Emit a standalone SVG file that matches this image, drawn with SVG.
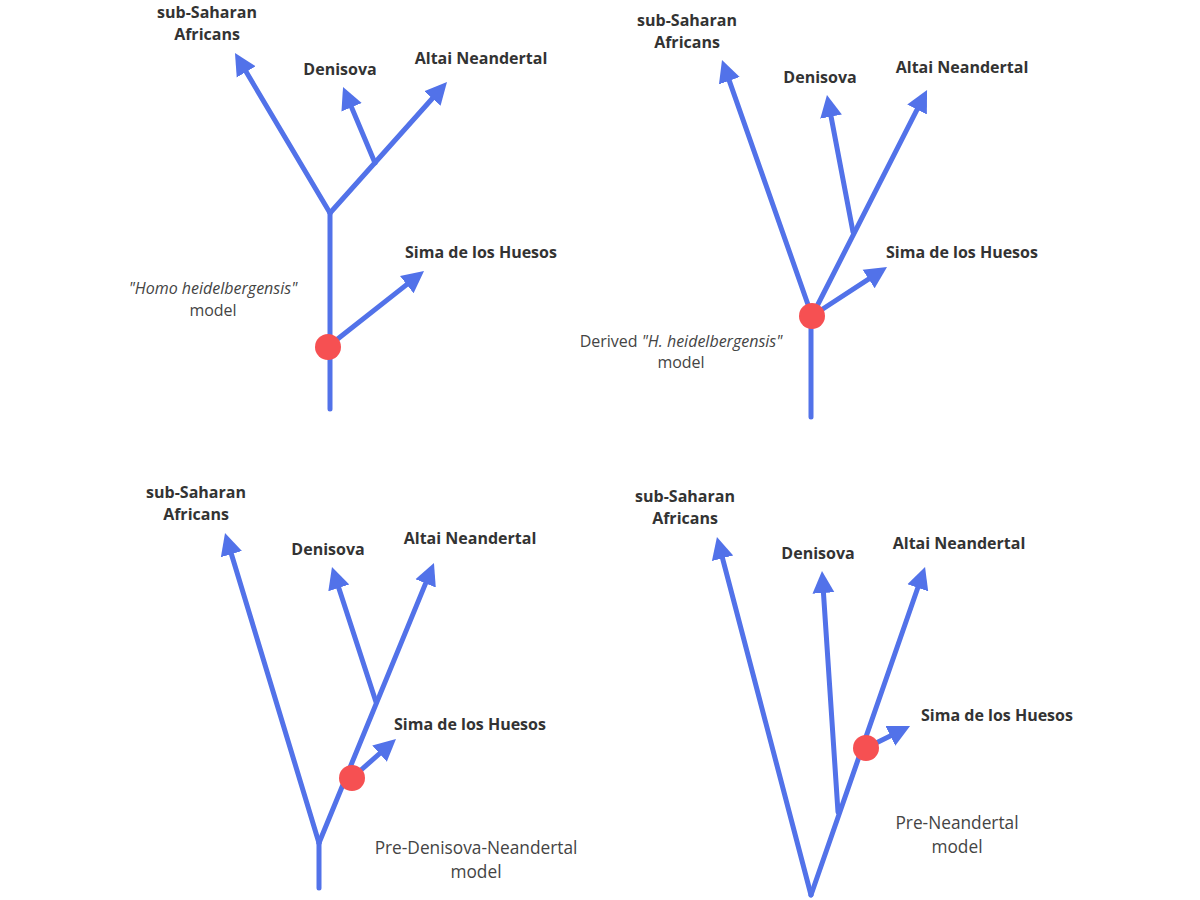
<svg xmlns="http://www.w3.org/2000/svg" width="1200" height="900" viewBox="0 0 1200 900">
<defs>
<marker id="ah" markerUnits="userSpaceOnUse" markerWidth="24" markerHeight="24" viewBox="0 0 24 24" refX="10" refY="12" orient="auto">
<path d="M0,1 L22,12 L0,23 Z" fill="#5272E9"/>
</marker>
<style>
.br{fill:none;stroke:#5272E9;stroke-width:5;stroke-linecap:round;stroke-linejoin:round}
.ar{marker-end:url(#ah)}
.dot{fill:#F65052}
.lb{font-family:"Open Sans","Noto Sans","Liberation Sans",sans-serif;font-size:16px;font-weight:bold;fill:#333;text-anchor:middle}
.cap{font-family:"Open Sans","Noto Sans","Liberation Sans",sans-serif;font-size:16px;fill:#444;text-anchor:middle}
.big{font-size:17.3px}
.it{font-style:italic}
</style>
</defs>
<rect width="1200" height="900" fill="#fff"/>

<g id="connectors">
<!-- panel 1 -->
<path class="br" d="M330,409 L330,213"/>
<path class="br ar" d="M330,213 L241.1,63.3"/>
<path class="br ar" d="M330,213 L439,91"/>
<path class="br ar" d="M375,163 L347.7,98.1"/>
<path class="br ar" d="M330,345 L414.6,278.4"/>
<!-- panel 2 -->
<path class="br" d="M811,417 L811,316"/>
<path class="br ar" d="M812,316 L726,71.3"/>
<path class="br ar" d="M812,316 L921.6,100.7"/>
<path class="br ar" d="M853,232 L829.2,106.8"/>
<path class="br ar" d="M812,316 L877,273.6"/>
<!-- panel 3 -->
<path class="br" d="M319,888 L319,843"/>
<path class="br ar" d="M319,843 L228.5,544.5"/>
<path class="br ar" d="M319,843 L429.4,574.1"/>
<path class="br ar" d="M376,702 L335.7,578.4"/>
<path class="br ar" d="M352,778 L387,747"/>
<!-- panel 4 -->
<path class="br ar" d="M811,895 L720,548.6"/>
<path class="br ar" d="M811,895 L921.1,578.3"/>
<path class="br ar" d="M838,812 L822.8,583"/>
<path class="br ar" d="M866,748 L899.3,731.4"/>
</g>

<g id="dot1"><circle class="dot" cx="328" cy="347" r="13"/></g>
<g id="dot2"><circle class="dot" cx="812" cy="316" r="13"/></g>
<g id="dot3"><circle class="dot" cx="352" cy="778" r="13"/></g>
<g id="dot4"><circle class="dot" cx="866" cy="748" r="13"/></g>

<g id="p1-labels">
<text class="lb" x="207" y="18">sub-Saharan</text>
<text class="lb" x="207" y="40">Africans</text>
<text class="lb" x="340" y="75">Denisova</text>
<text class="lb" x="481" y="64">Altai Neandertal</text>
<text class="lb" x="481" y="258">Sima de los Huesos</text>
<text class="cap it" x="213" y="294">"Homo heidelbergensis"</text>
<text class="cap" x="213" y="316">model</text>
</g>

<g id="p2-labels">
<text class="lb" x="687" y="26">sub-Saharan</text>
<text class="lb" x="687" y="48">Africans</text>
<text class="lb" x="820" y="83">Denisova</text>
<text class="lb" x="962" y="73">Altai Neandertal</text>
<text class="lb" x="962" y="258">Sima de los Huesos</text>
<text class="cap" x="681" y="347">Derived <tspan class="it">"H. heidelbergensis"</tspan></text>
<text class="cap" x="681" y="368">model</text>
</g>

<g id="p3-labels">
<text class="lb" x="196" y="498">sub-Saharan</text>
<text class="lb" x="196" y="520">Africans</text>
<text class="lb" x="328" y="555">Denisova</text>
<text class="lb" x="470" y="544">Altai Neandertal</text>
<text class="lb" x="470" y="730">Sima de los Huesos</text>
<text class="cap big" x="476" y="854">Pre-Denisova-Neandertal</text>
<text class="cap big" x="476" y="878">model</text>
</g>

<g id="p4-labels">
<text class="lb" x="685" y="502">sub-Saharan</text>
<text class="lb" x="685" y="524">Africans</text>
<text class="lb" x="818" y="559">Denisova</text>
<text class="lb" x="959" y="549">Altai Neandertal</text>
<text class="lb" x="997" y="721">Sima de los Huesos</text>
<text class="cap big" x="957" y="829">Pre-Neandertal</text>
<text class="cap big" x="957" y="853">model</text>
</g>
</svg>
